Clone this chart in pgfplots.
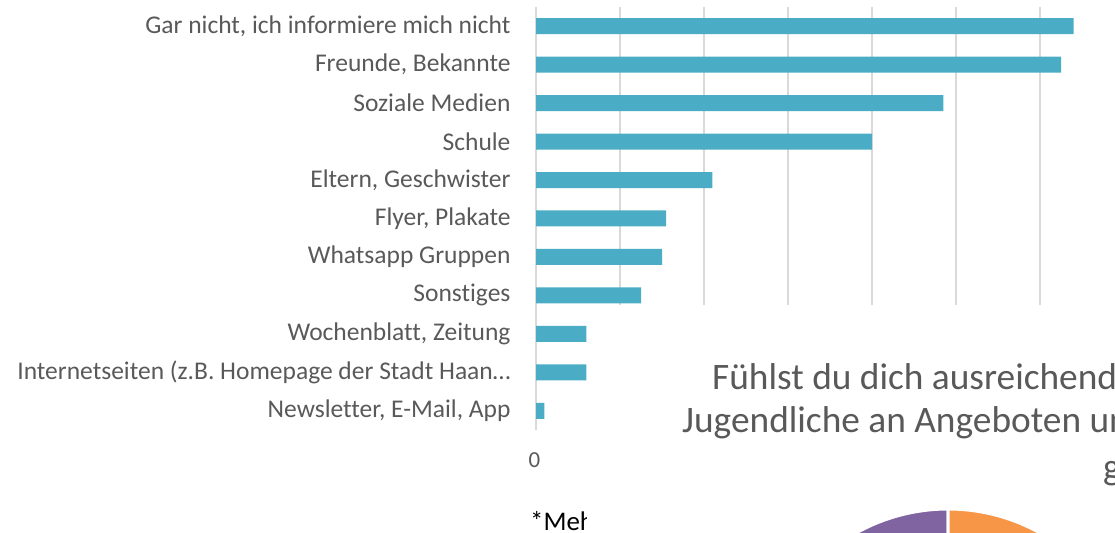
\documentclass[border=0pt]{standalone}
\usepackage{pgfplots}
\pgfplotsset{compat=1.18}
\usepackage{fontspec}
\setmainfont[Ligatures=NoCommon]{Carlito}
\definecolor{barc}{HTML}{4BACC6}
\definecolor{txt}{HTML}{595959}
\definecolor{grd}{HTML}{D9D9D9}
\definecolor{pur}{HTML}{8064A2}
\definecolor{ora}{HTML}{F79646}
\begin{document}
\begin{tikzpicture}
\useasboundingbox (0bp,0bp) rectangle (1115bp,533bp);
\clip (0bp,0bp) rectangle (1115bp,533bp);
\begin{axis}[
 at={(536bp,103bp)}, anchor=south west, scale only axis,
 width=588bp, height=423bp,
 xmin=0, xmax=140, ymin=0.5, ymax=11.5,
 xbar, bar width=16bp,
 xtick={0,20,...,140}, ytick={1,...,11},
 yticklabels={{Newsletter, E-Mail, App},{Internetseiten (z.B. Homepage der Stadt Haan…},{Wochenblatt, Zeitung},{Sonstiges},{Whatsapp Gruppen},{Flyer, Plakate},{Eltern, Geschwister},{Schule},{Soziale Medien},{Freunde, Bekannte},{Gar nicht, ich informiere mich nicht}},
 xmajorgrids, major grid style={grd, line width=1.5bp},
 axis line style={draw=none},
 major tick length=0,
 tick label style={text=txt},
 yticklabel style={font=\fontsize{25.6}{29}\selectfont, xshift=-22bp},
 xticklabel style={font=\fontsize{23}{26}\selectfont, yshift=-19bp, xshift=-1.5bp},
 /pgf/number format/assume math mode=true,
]
\addplot[fill=barc, draw=none] coordinates {(2,1) (12,2) (12,3) (25,4) (30,5) (31,6) (42,7) (80,8) (97,9) (125,10) (128,11)};
\end{axis}
\node[anchor=base west, inner sep=0, font=\fontsize{27}{32}\selectfont, text=black] at (530bp,3bp) {*Mehrfachnennungen möglich};
\fill[white] (587bp,0bp) rectangle (1115bp,228bp);
\node[anchor=base west, inner sep=0, font=\fontsize{37.5}{42}\selectfont, text=txt] at (712bp,143bp) {Fühlst du dich ausreichend als};
\node[anchor=base west, inner sep=0, font=\fontsize{37.5}{42}\selectfont, text=txt] at (682bp,100bp) {Jugendliche an Angeboten und};
\node[anchor=base west, inner sep=0, font=\fontsize{37.5}{42}\selectfont, text=txt] at (1103bp,53bp) {gefragt?};
\fill[pur, draw=white, line width=3bp] (948bp,-164bp) -- ++(90:188bp) arc[start angle=90, end angle=200, radius=188bp] -- cycle;
\fill[ora, draw=white, line width=3bp] (948bp,-164bp) -- ++(90:188bp) arc[start angle=90, end angle=-40, radius=188bp] -- cycle;
\end{tikzpicture}
\end{document}
